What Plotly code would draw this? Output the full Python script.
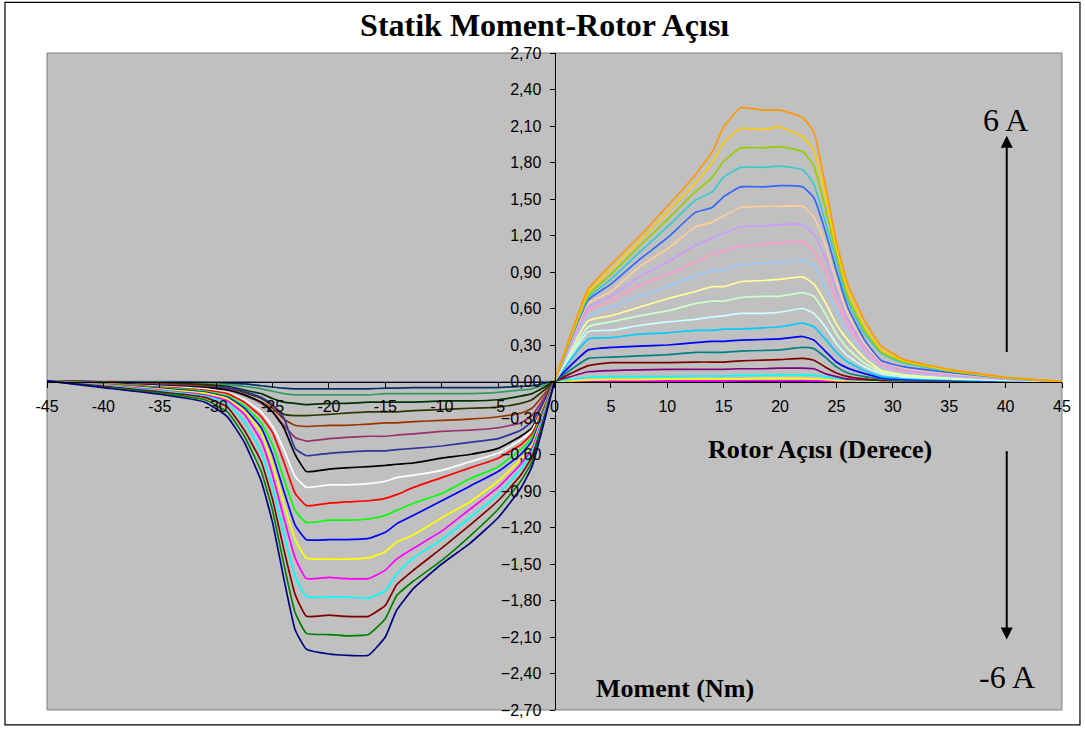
import plotly.graph_objects as go

# ---------------- data ----------------
# positive side: rotor angle grid (degrees)
X_POS = [0, 3, 5, 7.5, 10, 12.5, 14, 15, 16.5, 18.5, 20, 22, 23, 24, 25, 26, 27.5, 29, 31, 35, 40, 45]
POS_COLORS = ['#000080', '#FF00FF', '#FFFF00', '#00FFFF', '#800080', '#800000', '#008080', '#0000FF',
              '#00CCFF', '#CCFFFF', '#CCFFCC', '#FFFF99', '#99CCFF', '#FF99CC', '#CC99FF', '#FFCC99',
              '#3366FF', '#33CCCC', '#99CC00', '#FFCC00', '#FF9900']
pos_00 = [0, 0, 0, 0, 0, 0, 0, 0, 0, 0, 0, 0, 0, 0, 0, 0, 0, 0, 0, 0, 0, 0]
pos_01 = [0, 0.004, 0.005, 0.005, 0.005, 0.005, 0.005, 0.005, 0.006, 0.006, 0.006, 0.006, 0.005, 0.004, 0.003, 0.002, 0.002, 0.001, 0.001, 0.001, 0, 0]
pos_02 = [0, 0.012, 0.015, 0.015, 0.02, 0.02, 0.02, 0.02, 0.022, 0.025, 0.025, 0.025, 0.022, 0.015, 0.01, 0.006, 0.004, 0.003, 0.003, 0.002, 0.001, 0]
pos_03 = [0, 0.035, 0.04, 0.04, 0.04, 0.045, 0.045, 0.045, 0.05, 0.05, 0.055, 0.055, 0.05, 0.04, 0.025, 0.015, 0.01, 0.006, 0.005, 0.003, 0.002, 0]
pos_04 = [0, 0.08, 0.09, 0.095, 0.10, 0.10, 0.10, 0.10, 0.105, 0.105, 0.11, 0.11, 0.105, 0.065, 0.04, 0.02, 0.015, 0.01, 0.006, 0.004, 0.002, 0]
pos_05 = [0, 0.13, 0.155, 0.155, 0.155, 0.16, 0.16, 0.16, 0.17, 0.175, 0.18, 0.19, 0.175, 0.12, 0.07, 0.04, 0.02, 0.01, 0.008, 0.005, 0.003, 0]
pos_06 = [0, 0.19, 0.20, 0.21, 0.22, 0.24, 0.24, 0.24, 0.25, 0.255, 0.26, 0.28, 0.27, 0.20, 0.12, 0.07, 0.04, 0.02, 0.012, 0.008, 0.004, 0]
pos_07 = [0, 0.26, 0.28, 0.29, 0.30, 0.32, 0.33, 0.33, 0.34, 0.345, 0.35, 0.37, 0.34, 0.25, 0.16, 0.11, 0.065, 0.03, 0.018, 0.012, 0.006, 0]
pos_08 = [0, 0.35, 0.36, 0.39, 0.40, 0.42, 0.42, 0.43, 0.43, 0.44, 0.45, 0.48, 0.45, 0.35, 0.24, 0.16, 0.09, 0.04, 0.025, 0.015, 0.008, 0]
pos_09 = [0, 0.41, 0.42, 0.46, 0.49, 0.51, 0.53, 0.54, 0.56, 0.56, 0.57, 0.60, 0.56, 0.45, 0.31, 0.21, 0.12, 0.065, 0.035, 0.02, 0.01, 0]
pos_10 = [0, 0.45, 0.49, 0.54, 0.58, 0.64, 0.66, 0.66, 0.69, 0.70, 0.70, 0.73, 0.70, 0.56, 0.39, 0.27, 0.15, 0.08, 0.045, 0.026, 0.012, 0]
pos_11 = [0, 0.50, 0.54, 0.61, 0.68, 0.74, 0.78, 0.78, 0.82, 0.83, 0.84, 0.86, 0.80, 0.65, 0.47, 0.34, 0.19, 0.09, 0.055, 0.032, 0.014, 0]
pos_12 = [0, 0.54, 0.61, 0.70, 0.78, 0.87, 0.91, 0.92, 0.96, 0.97, 0.98, 1.00, 0.95, 0.78, 0.58, 0.41, 0.23, 0.12, 0.07, 0.04, 0.017, 0]
pos_13 = [0, 0.58, 0.66, 0.79, 0.88, 0.98, 1.05, 1.07, 1.11, 1.13, 1.14, 1.15, 1.07, 0.91, 0.66, 0.46, 0.25, 0.13, 0.08, 0.05, 0.02, 0]
pos_14 = [0, 0.61, 0.70, 0.86, 0.98, 1.12, 1.18, 1.22, 1.27, 1.28, 1.29, 1.29, 1.21, 1.02, 0.75, 0.51, 0.29, 0.15, 0.10, 0.055, 0.022, 0]
pos_15 = [0, 0.64, 0.74, 0.94, 1.09, 1.27, 1.31, 1.36, 1.43, 1.44, 1.44, 1.44, 1.35, 1.13, 0.82, 0.56, 0.31, 0.16, 0.11, 0.065, 0.025, 0]
pos_16 = [0, 0.67, 0.80, 1.00, 1.18, 1.39, 1.43, 1.52, 1.60, 1.60, 1.61, 1.60, 1.51, 1.24, 0.91, 0.61, 0.34, 0.17, 0.12, 0.075, 0.028, 0]
pos_17 = [0, 0.69, 0.84, 1.06, 1.27, 1.49, 1.56, 1.68, 1.76, 1.76, 1.77, 1.74, 1.62, 1.32, 0.99, 0.66, 0.39, 0.23, 0.15, 0.085, 0.03, 0]
pos_18 = [0, 0.71, 0.88, 1.11, 1.33, 1.56, 1.68, 1.81, 1.92, 1.92, 1.93, 1.89, 1.77, 1.43, 1.05, 0.70, 0.42, 0.24, 0.16, 0.09, 0.03, 0]
pos_19 = [0, 0.73, 0.92, 1.15, 1.39, 1.63, 1.80, 1.96, 2.08, 2.07, 2.09, 2.01, 1.90, 1.54, 1.10, 0.75, 0.45, 0.26, 0.17, 0.095, 0.033, 0]
pos_20 = [0, 0.76, 0.96, 1.19, 1.44, 1.70, 1.89, 2.09, 2.25, 2.23, 2.23, 2.17, 2.05, 1.62, 1.15, 0.80, 0.50, 0.29, 0.18, 0.10, 0.035, 0]
POS_SERIES = [pos_00, pos_01, pos_02, pos_03, pos_04, pos_05, pos_06, pos_07, pos_08, pos_09, pos_10,
              pos_11, pos_12, pos_13, pos_14, pos_15, pos_16, pos_17, pos_18, pos_19, pos_20]

# negative side
X_NEG = [0, -2, -3, -5, -7.5, -10, -12.5, -14, -15, -16.5, -18.5, -20, -22, -23, -24, -25, -26, -27.5, -29, -31, -35, -40, -45]
NEG_COLORS = ['#666699', '#003366', '#339966', '#003300', '#333300', '#993300', '#993366', '#333399',
              '#000000', '#FFFFFF', '#FF0000', '#00FF00', '#0000FF', '#FFFF00', '#FF00FF', '#00FFFF',
              '#800000', '#008000', '#000080']
neg_00 = [0, -0.003, -0.004, -0.005, -0.005, -0.005, -0.005, -0.005, -0.005, -0.005, -0.005, -0.005, -0.005, -0.005, -0.005, -0.004, -0.004, -0.003, -0.003, -0.002, -0.001, 0, 0.005]
neg_01 = [0, -0.035, -0.04, -0.05, -0.05, -0.05, -0.05, -0.055, -0.055, -0.06, -0.06, -0.06, -0.06, -0.06, -0.055, -0.045, -0.035, -0.02, -0.015, -0.01, -0.005, -0.003, 0.005]
neg_02 = [0, -0.06, -0.07, -0.09, -0.10, -0.10, -0.10, -0.10, -0.10, -0.11, -0.11, -0.11, -0.11, -0.11, -0.10, -0.08, -0.06, -0.04, -0.025, -0.015, -0.008, -0.004, 0.005]
neg_03 = [0, -0.10, -0.12, -0.15, -0.16, -0.16, -0.17, -0.17, -0.17, -0.17, -0.18, -0.18, -0.19, -0.18, -0.17, -0.14, -0.10, -0.07, -0.04, -0.025, -0.012, -0.005, 0.005]
neg_04 = [0, -0.15, -0.18, -0.21, -0.22, -0.23, -0.24, -0.25, -0.25, -0.25, -0.26, -0.27, -0.28, -0.28, -0.27, -0.20, -0.14, -0.09, -0.05, -0.03, -0.015, -0.006, 0.005]
neg_05 = [0, -0.22, -0.26, -0.29, -0.31, -0.32, -0.33, -0.34, -0.34, -0.35, -0.36, -0.36, -0.37, -0.36, -0.31, -0.22, -0.17, -0.11, -0.06, -0.04, -0.02, -0.008, 0.005]
neg_06 = [0, -0.28, -0.34, -0.38, -0.40, -0.41, -0.43, -0.44, -0.45, -0.45, -0.46, -0.47, -0.49, -0.46, -0.36, -0.25, -0.18, -0.11, -0.06, -0.045, -0.025, -0.01, 0.005]
neg_07 = [0, -0.33, -0.40, -0.47, -0.50, -0.53, -0.55, -0.56, -0.57, -0.57, -0.58, -0.59, -0.61, -0.55, -0.30, -0.19, -0.13, -0.08, -0.05, -0.05, -0.03, -0.012, 0.005]
neg_08 = [0, -0.38, -0.45, -0.55, -0.60, -0.63, -0.67, -0.68, -0.69, -0.70, -0.71, -0.72, -0.74, -0.60, -0.38, -0.25, -0.17, -0.11, -0.07, -0.05, -0.035, -0.015, 0.005]
neg_09 = [0, -0.40, -0.48, -0.59, -0.66, -0.73, -0.77, -0.79, -0.82, -0.84, -0.85, -0.85, -0.87, -0.78, -0.56, -0.37, -0.25, -0.15, -0.09, -0.06, -0.04, -0.018, 0.005]
neg_10 = [0, -0.43, -0.52, -0.63, -0.71, -0.79, -0.87, -0.93, -0.96, -0.98, -0.99, -1.00, -1.02, -0.92, -0.66, -0.42, -0.29, -0.17, -0.10, -0.07, -0.045, -0.02, 0.005]
neg_11 = [0, -0.46, -0.56, -0.70, -0.80, -0.92, -1.00, -1.06, -1.10, -1.13, -1.14, -1.14, -1.16, -1.06, -0.80, -0.52, -0.34, -0.20, -0.12, -0.08, -0.05, -0.022, 0.005]
neg_12 = [0, -0.49, -0.60, -0.74, -0.86, -0.98, -1.10, -1.17, -1.24, -1.29, -1.30, -1.30, -1.30, -1.18, -0.90, -0.60, -0.38, -0.22, -0.13, -0.09, -0.057, -0.025, 0.005]
neg_13 = [0, -0.52, -0.64, -0.82, -0.99, -1.12, -1.26, -1.32, -1.40, -1.45, -1.46, -1.46, -1.45, -1.30, -1.00, -0.68, -0.42, -0.24, -0.14, -0.095, -0.062, -0.028, 0.005]
neg_14 = [0, -0.55, -0.68, -0.87, -1.05, -1.23, -1.37, -1.46, -1.55, -1.62, -1.62, -1.61, -1.62, -1.45, -1.12, -0.77, -0.49, -0.27, -0.16, -0.11, -0.07, -0.032, 0.005]
neg_15 = [0, -0.58, -0.72, -0.93, -1.12, -1.30, -1.45, -1.58, -1.72, -1.78, -1.77, -1.77, -1.77, -1.60, -1.25, -0.87, -0.58, -0.33, -0.18, -0.12, -0.077, -0.036, 0.005]
neg_16 = [0, -0.62, -0.77, -0.98, -1.18, -1.37, -1.55, -1.67, -1.84, -1.93, -1.93, -1.92, -1.93, -1.75, -1.38, -0.97, -0.66, -0.40, -0.21, -0.13, -0.085, -0.04, 0.005]
neg_17 = [0, -0.66, -0.82, -1.05, -1.27, -1.47, -1.64, -1.76, -1.95, -2.08, -2.09, -2.08, -2.07, -1.90, -1.50, -1.06, -0.74, -0.45, -0.25, -0.15, -0.095, -0.045, 0.005]
neg_18 = [0, -0.70, -0.88, -1.12, -1.33, -1.50, -1.70, -1.88, -2.10, -2.25, -2.25, -2.24, -2.20, -2.04, -1.62, -1.16, -0.82, -0.50, -0.29, -0.17, -0.105, -0.05, 0.005]
NEG_SERIES = [neg_00, neg_01, neg_02, neg_03, neg_04, neg_05, neg_06, neg_07, neg_08, neg_09,
              neg_10, neg_11, neg_12, neg_13, neg_14, neg_15, neg_16, neg_17, neg_18]

X_TICKS = [-45, -40, -35, -30, -25, -20, -15, -10, -5, 0, 5, 10, 15, 20, 25, 30, 35, 40, 45]
Y_TICKS = [-2.7, -2.4, -2.1, -1.8, -1.5, -1.2, -0.9, -0.6, -0.3, 0.0, 0.3, 0.6, 0.9, 1.2, 1.5, 1.8, 2.1, 2.4, 2.7]

TITLE = "Statik Moment-Rotor Açısı"
X_TITLE = "Rotor Açısı (Derece)"
Y_TITLE = "Moment (Nm)"

# ---------------- figure ----------------
fig = go.Figure()
for vals, col in zip(POS_SERIES, POS_COLORS):
    fig.add_trace(go.Scatter(x=X_POS, y=vals, mode="lines",
                             line=dict(color=col, width=1.7, shape="spline", smoothing=0.4),
                             hoverinfo="skip"))
for vals, col in zip(NEG_SERIES, NEG_COLORS):
    fig.add_trace(go.Scatter(x=X_NEG, y=vals, mode="lines",
                             line=dict(color=col, width=1.7, shape="spline", smoothing=0.4),
                             hoverinfo="skip"))

serif = "Liberation Serif, Times New Roman, serif"
sans = "Liberation Sans, Arial, sans-serif"

fig.update_layout(
    width=1085, height=731,
    margin=dict(l=47, r=23, t=53, b=17),
    paper_bgcolor="white",
    plot_bgcolor="#C0C0C0",
    showlegend=False,
    separators=",.",
    title=dict(text="<b>" + TITLE + "</b>", x=0.502, xanchor="center", y=0.966, yanchor="middle",
               font=dict(family=serif, size=32, color="black")),
    xaxis=dict(range=[-45, 45], tickvals=X_TICKS, ticktext=[str(v) for v in X_TICKS],
               anchor="free", position=0.5, showline=True, linecolor="black", linewidth=1,
               ticks="outside", ticklen=5, tickcolor="black", showgrid=False, zeroline=False,
               ticklabelstandoff=5,
               tickfont=dict(family=sans, size=16, color="black")),
    yaxis=dict(range=[-2.7, 2.7], tickvals=Y_TICKS, tickformat=".2f",
               anchor="free", position=0.5, showline=True, linecolor="black", linewidth=1,
               ticks="outside", ticklen=5, tickcolor="black", showgrid=False, zeroline=False,
               ticklabelstandoff=5,
               tickfont=dict(family=sans, size=16, color="black")),
)

# plot-area frame and outer chart border
fig.add_shape(type="rect", xref="paper", yref="paper", x0=0, x1=1, y0=0, y1=1,
              line=dict(color="#808080", width=1), layer="below")
fig.add_shape(type="rect", xref="paper", yref="paper", x0=-0.0414, x1=1.0177, y0=-0.0227, y1=1.0772,
              line=dict(color="black", width=1.2))

# axis titles as in-plot text
fig.add_annotation(x=23.5, y=-0.56, xref="x", yref="y", text="<b>" + X_TITLE + "</b>", showarrow=False,
                   font=dict(family=serif, size=26, color="black"))
fig.add_annotation(x=10.7, y=-2.52, xref="x", yref="y", text="<b>" + Y_TITLE + "</b>", showarrow=False,
                   font=dict(family=serif, size=26, color="black"))

# current labels and arrows
fig.add_annotation(x=40.0, y=2.15, xref="x", yref="y", text="6 A", showarrow=False,
                   font=dict(family=serif, size=32, color="black"))
fig.add_annotation(x=40.1, y=-2.43, xref="x", yref="y", text="-6 A", showarrow=False,
                   font=dict(family=serif, size=32, color="black"))
fig.add_annotation(x=40.1, y=2.02, ax=40.1, ay=0.23, xref="x", yref="y", axref="x", ayref="y",
                   text="", showarrow=True, arrowhead=2, arrowsize=1.2, arrowwidth=2, arrowcolor="black")
fig.add_annotation(x=40.1, y=-2.12, ax=40.1, ay=-0.56, xref="x", yref="y", axref="x", ayref="y",
                   text="", showarrow=True, arrowhead=2, arrowsize=1.2, arrowwidth=2, arrowcolor="black")

fig.write_html("out.html")
